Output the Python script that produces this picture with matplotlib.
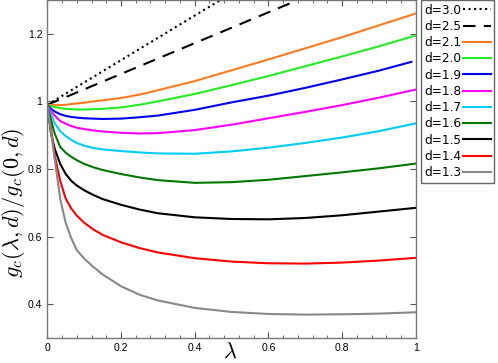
import matplotlib
matplotlib.use('Agg')
import matplotlib.pyplot as plt
from matplotlib.ticker import MultipleLocator

plt.rcParams['mathtext.fontset'] = 'cm'

lam = [0, 0.01, 0.02, 0.035, 0.05, 0.065, 0.08, 0.1, 0.125, 0.15,
       0.2, 0.25, 0.3, 0.4, 0.5, 0.6, 0.7, 0.8, 0.9, 1.0]
lam_blue = lam[:-1] + [0.988]

g30_lam = [0, 0.47]
g30 = [0.99, 1.30]
g25_lam = [0, 0.68]
g25 = [0.99, 1.30]

g21 = [0.99, 0.989, 0.989, 0.989, 0.99, 0.992, 0.994, 0.996, 1.0, 1.003,
       1.01, 1.02, 1.033, 1.06, 1.092, 1.124, 1.157, 1.19, 1.225, 1.26]
g20 = [0.99, 0.986, 0.983, 0.98, 0.978, 0.977, 0.976, 0.976, 0.977, 0.978,
       0.982, 0.99, 1.0, 1.022, 1.048, 1.075, 1.104, 1.133, 1.163, 1.195]
g19 = [0.99, 0.978, 0.97, 0.962, 0.957, 0.954, 0.952, 0.95, 0.949, 0.948,
       0.949, 0.953, 0.958, 0.975, 0.997, 1.017, 1.04, 1.065, 1.091, 1.117]
g18 = [0.99, 0.97, 0.958, 0.942, 0.934, 0.927, 0.922, 0.918, 0.914, 0.911,
       0.907, 0.905, 0.906, 0.915, 0.931, 0.95, 0.969, 0.989, 1.011, 1.035]
g17 = [0.99, 0.962, 0.935, 0.912, 0.897, 0.886, 0.877, 0.869, 0.862, 0.858,
       0.853, 0.849, 0.846, 0.845, 0.852, 0.863, 0.877, 0.893, 0.912, 0.935]
g16 = [0.99, 0.945, 0.905, 0.865, 0.848, 0.836, 0.826, 0.815, 0.805, 0.797,
       0.785, 0.775, 0.767, 0.759, 0.761, 0.768, 0.779, 0.79, 0.802, 0.816]
g15 = [0.99, 0.905, 0.86, 0.815, 0.785, 0.765, 0.751, 0.737, 0.723, 0.711,
       0.694, 0.68, 0.669, 0.657, 0.652, 0.651, 0.655, 0.663, 0.674, 0.685]
g14 = [0.99, 0.92, 0.84, 0.765, 0.712, 0.683, 0.662, 0.641, 0.621, 0.605,
       0.583, 0.566, 0.553, 0.536, 0.526, 0.521, 0.52, 0.523, 0.529, 0.537]
g13 = [0.99, 0.91, 0.83, 0.712, 0.64, 0.595, 0.56, 0.535, 0.51, 0.488,
       0.453, 0.428, 0.411, 0.389, 0.377, 0.371, 0.369, 0.37, 0.372, 0.376]

fig = plt.figure(figsize=(4.98, 3.63), dpi=100)
ax = fig.add_axes([0.095, 0.069, 0.74, 0.931])

ax.plot(g30_lam, g30, color='black', ls=':', lw=1.5, label='d=3.0')
ax.plot(g25_lam, g25, color='black', lw=1.5, dashes=(6, 4), label='d=2.5')
ax.plot(lam, g21, color='#ff7a1e', lw=1.5, label='d=2.1')
ax.plot(lam, g20, color='#22ee22', lw=1.5, label='d=2.0')
ax.plot(lam_blue, g19, color='#0000ee', lw=1.5, label='d=1.9')
ax.plot(lam, g18, color='#ff00ff', lw=1.5, label='d=1.8')
ax.plot(lam, g17, color='#00ccff', lw=1.5, label='d=1.7')
ax.plot(lam, g16, color='#007700', lw=1.5, label='d=1.6')
ax.plot(lam, g15, color='black', lw=1.5, label='d=1.5')
ax.plot(lam, g14, color='#ff0000', lw=1.5, label='d=1.4')
ax.plot(lam, g13, color='#888888', lw=1.5, label='d=1.3')

ax.set_xlim(0, 1)
ax.set_ylim(0.3, 1.3)
ax.set_xticks([0, 0.2, 0.4, 0.6, 0.8, 1])
ax.set_xticklabels(['0', '0.2', '0.4', '0.6', '0.8', '1'])
ax.set_yticks([0.4, 0.6, 0.8, 1.0, 1.2])
ax.set_yticklabels(['0.4', '0.6', '0.8', '1', '1.2'])
ax.xaxis.set_minor_locator(MultipleLocator(0.04))
ax.tick_params(which='both', direction='in', top=True, right=True,
               colors='#555555', labelcolor='black', labelsize=7.5,
               labelfontfamily='Liberation Sans')
ax.tick_params(which='major', length=4)
ax.tick_params(which='minor', length=2)
for s in ax.spines.values():
    s.set_color('#777777')
    s.set_linewidth(1.0)

ax.set_xlabel(r'$\lambda$', fontsize=16)
ax.xaxis.set_label_coords(0.497, -0.01)
ax.set_ylabel(r'$g_c(\lambda,d)/g_c(0,d)$', fontsize=16)
ax.yaxis.set_label_coords(-0.055, 0.40)

leg = fig.legend(loc='upper left', bbox_to_anchor=(0.845, 1.0),
                 markerfirst=False, fontsize=8.7, labelspacing=0.27,
                 handlelength=2.3, handletextpad=0.1, borderpad=0.3,
                 borderaxespad=0, fancybox=False, framealpha=1)
leg.get_frame().set_edgecolor('#666666')
leg.get_frame().set_linewidth(1.0)

fig.savefig('out.png', dpi=100)
